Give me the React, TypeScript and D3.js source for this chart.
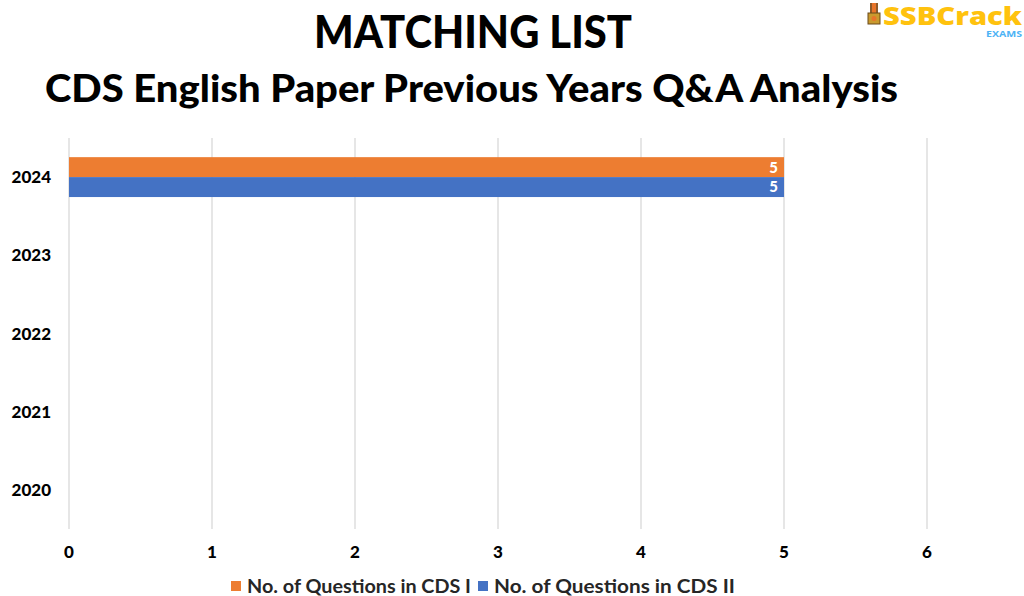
import React, { useEffect, useRef } from 'react';
import * as d3 from 'd3';

const years = ['2024', '2023', '2022', '2021', '2020'];
const seriesNames = ['No. of Questions in CDS I', 'No. of Questions in CDS II'];
const cdsOne = [5, 0, 0, 0, 0];
const cdsTwo = [5, 0, 0, 0, 0];
const xTicks = [0, 1, 2, 3, 4, 5, 6];
const colors = ['#ED7D31', '#4472C4'];

const FONT = 'Lato, "Open Sans", sans-serif';

export default function App() {
  const ref = useRef<SVGSVGElement | null>(null);

  useEffect(() => {
    const width = 1024;
    const height = 596;
    const svg = d3.select(ref.current);
    svg.selectAll('*').remove();
    svg.attr('width', width).attr('height', height).style('background', '#fff');

    const rows = years.map((y, i) => ({ year: y, values: [cdsOne[i], cdsTwo[i]] }));

    const x = d3.scaleLinear().domain([0, 6]).range([69, 927]);
    const y = d3.scaleBand<string>()
      .domain(years)
      .range([138, 529])
      .paddingInner(0.49)
      .paddingOuter(0.245);
    const sub = d3.scaleBand<number>()
      .domain([0, 1])
      .range([0, y.bandwidth()]);

    // titles
    svg.append('text')
      .attr('x', 473).attr('y', 48)
      .attr('text-anchor', 'middle')
      .attr('font-family', FONT).attr('font-weight', 900)
      .attr('font-size', 46)
      .attr('textLength', 318).attr('lengthAdjust', 'spacingAndGlyphs')
      .attr('fill', '#000')
      .text('MATCHING LIST');

    svg.append('text')
      .attr('x', 471.5).attr('y', 102)
      .attr('text-anchor', 'middle')
      .attr('font-family', FONT).attr('font-weight', 900)
      .attr('font-size', 37)
      .attr('textLength', 853).attr('lengthAdjust', 'spacingAndGlyphs')
      .attr('fill', '#000')
      .text('CDS English Paper Previous Years Q&A Analysis');

    // logo
    const logo = svg.append('g');
    logo.append('rect').attr('x', 870).attr('y', 3).attr('width', 8).attr('height', 10).attr('fill', '#E8742A');
    logo.append('rect').attr('x', 870).attr('y', 3).attr('width', 2).attr('height', 10).attr('fill', '#8B5A2B');
    logo.append('rect').attr('x', 876).attr('y', 3).attr('width', 2).attr('height', 10).attr('fill', '#8B5A2B');
    logo.append('rect').attr('x', 868).attr('y', 13).attr('width', 12).attr('height', 11).attr('fill', '#C99A2E').attr('stroke', '#6B4A1B').attr('stroke-width', 1);
    logo.append('circle').attr('cx', 874).attr('cy', 18.5).attr('r', 2.5).attr('fill', '#E8742A');
    logo.append('text')
      .attr('x', 883).attr('y', 25)
      .attr('font-family', '"Open Sans", sans-serif').attr('font-weight', 800)
      .attr('font-size', 24)
      .attr('textLength', 139).attr('lengthAdjust', 'spacingAndGlyphs')
      .attr('fill', '#FFC20E')
      .text('SSBCrack');
    logo.append('text')
      .attr('x', 1022).attr('y', 37)
      .attr('text-anchor', 'end')
      .attr('font-family', '"Open Sans", sans-serif').attr('font-weight', 700)
      .attr('font-size', 9)
      .attr('textLength', 36).attr('lengthAdjust', 'spacingAndGlyphs')
      .attr('fill', '#4DB3F5')
      .text('EXAMS');

    // gridlines
    svg.append('g')
      .selectAll('line')
      .data(xTicks)
      .join('line')
      .attr('x1', d => x(d)).attr('x2', d => x(d))
      .attr('y1', 138).attr('y2', 529)
      .attr('stroke', '#D9D9D9')
      .attr('stroke-width', 1.3);

    // x tick labels
    svg.append('g')
      .selectAll('text')
      .data(xTicks)
      .join('text')
      .attr('x', d => x(d)).attr('y', 558)
      .attr('text-anchor', 'middle')
      .attr('font-family', FONT).attr('font-weight', 900)
      .attr('font-size', 17)
      .attr('fill', '#000')
      .text(d => d);

    // y labels
    svg.append('g')
      .selectAll('text')
      .data(years)
      .join('text')
      .attr('x', 51).attr('y', d => (y(d) as number) + y.bandwidth() / 2)
      .attr('dy', '0.36em')
      .attr('text-anchor', 'end')
      .attr('font-family', FONT).attr('font-weight', 900)
      .attr('font-size', 17)
      .attr('fill', '#000')
      .text(d => d);

    // bars
    const groups = svg.append('g')
      .selectAll('g')
      .data(rows)
      .join('g')
      .attr('transform', d => `translate(0,${y(d.year)})`);

    groups.selectAll('rect')
      .data(d => d.values.map((v, i) => ({ v, i })).filter(e => e.v > 0))
      .join('rect')
      .attr('x', x(0))
      .attr('y', e => sub(e.i) as number)
      .attr('width', e => x(e.v) - x(0))
      .attr('height', sub.bandwidth())
      .attr('fill', e => colors[e.i]);

    groups.selectAll('text')
      .data(d => d.values.map((v, i) => ({ v, i })).filter(e => e.v > 0))
      .join('text')
      .attr('x', e => x(e.v) - 6)
      .attr('y', e => (sub(e.i) as number) + sub.bandwidth() / 2)
      .attr('dy', '0.36em')
      .attr('text-anchor', 'end')
      .attr('font-family', FONT).attr('font-weight', 900)
      .attr('font-size', 15)
      .attr('fill', '#fff')
      .text(e => e.v);

    // legend
    const legendItems = [
      { name: seriesNames[0], color: colors[0], sx: 231, tx: 247, w: 224 },
      { name: seriesNames[1], color: colors[1], sx: 478, tx: 494, w: 241 },
    ];
    const legend = svg.append('g');
    legend.selectAll('rect')
      .data(legendItems)
      .join('rect')
      .attr('x', d => d.sx).attr('y', 581)
      .attr('width', 10).attr('height', 10)
      .attr('fill', d => d.color);
    legend.selectAll('text')
      .data(legendItems)
      .join('text')
      .attr('x', d => d.tx).attr('y', 593)
      .attr('font-family', FONT).attr('font-weight', 700)
      .attr('font-size', 18)
      .attr('textLength', d => d.w).attr('lengthAdjust', 'spacingAndGlyphs')
      .attr('fill', '#262626')
      .text(d => d.name);
  }, []);

  return (
    <div style={{ position: 'absolute', left: 0, top: 0 }}>
      <svg ref={ref}></svg>
    </div>
  );
}
